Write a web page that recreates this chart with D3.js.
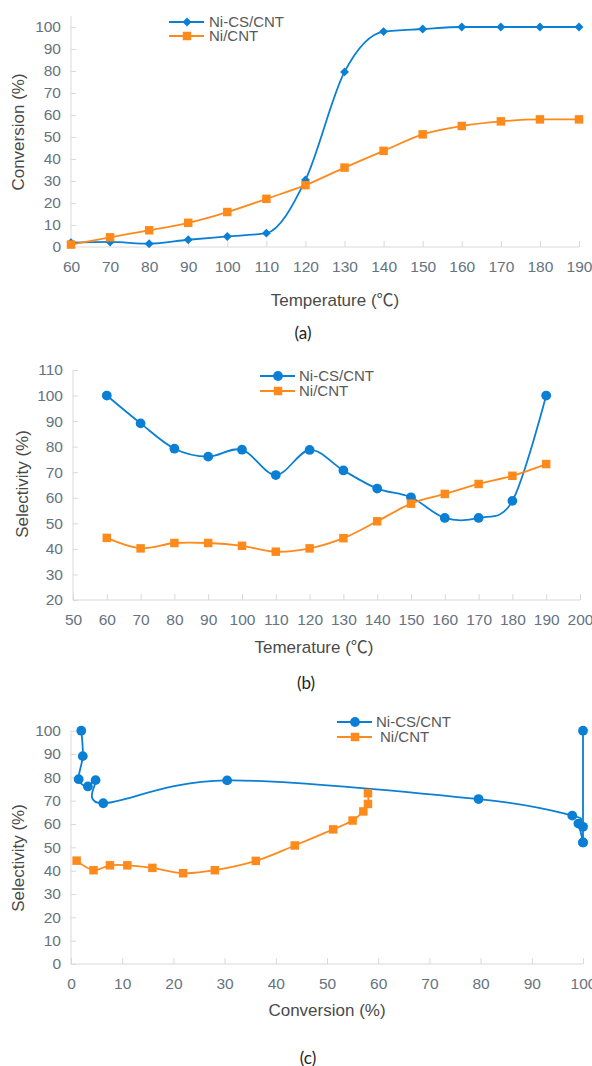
<!DOCTYPE html>
<html>
<head>
<meta charset="utf-8">
<script src="https://cdn.jsdelivr.net/npm/d3@7"></script>
<style>
body{margin:0;background:#fff;}
text{font-family:"Liberation Sans",Arial,sans-serif;}
</style>
</head>
<body>
<script>
// data
var temps=[60,70,80,90,100,110,120,130,140,150,160,170,180,190];
var convNiCS=[2.0,2.3,1.5,3.3,4.8,6.3,30.5,79.6,97.9,99.1,100,100,100,100];
var convNi=[1.1,4.4,7.6,11,15.9,21.9,28.1,36.1,43.7,51.2,55,57.1,58,58];
var selNiCS=[100,89.1,79.2,76.1,78.8,68.9,78.7,70.7,63.6,60.2,52.1,52.1,58.8,100];
var selNi=[44.3,40.2,42.3,42.3,41.2,38.9,40.2,44.2,50.8,57.7,61.5,65.4,68.6,73.2];
var seriesNames=["Ni-CS/CNT","Ni/CNT"];
var ticksTempA=[60,70,80,90,100,110,120,130,140,150,160,170,180,190];
var ticksTempB=[50,60,70,80,90,100,110,120,130,140,150,160,170,180,190,200];
var ticksPct=[0,10,20,30,40,50,60,70,80,90,100];
var ticksSelB=[20,30,40,50,60,70,80,90,100,110];

var blue="#0b7fd4";
var orange="#ff8a1c";
var tickColor="#66737f";
var titleColor="#4a4a4a";

var svg=d3.select("body")
  .append("svg")
  .attr("width",592)
  .attr("height",1066);

function drawChart(c){
  var g=svg.append("g");
  var x=d3.scaleLinear().domain(c.xDomain).range(c.xRange);
  var y=d3.scaleLinear().domain(c.yDomain).range(c.yRange);

  var xAxis=g.append("g")
    .attr("transform","translate(0,"+y(c.yDomain[0])+")")
    .call(d3.axisBottom(x).tickValues(c.xTicks).tickSizeInner(-6).tickSizeOuter(0).tickPadding(14));
  var yAxis=g.append("g")
    .attr("transform","translate("+x(c.xDomain[0])+",0)")
    .call(d3.axisLeft(y).tickValues(c.yTicks).tickSizeInner(-5).tickSizeOuter(0).tickPadding(10));
  [xAxis,yAxis].forEach(function(a){
    a.select(".domain").remove();
    a.selectAll("line").attr("stroke","#d9d9d9");
    a.selectAll("text").attr("fill",tickColor).style("font-size","15.5px");
  });
  // axis lines
  g.append("line")
    .attr("x1",x(c.xDomain[0])).attr("x2",x(c.xDomain[1]))
    .attr("y1",y(c.yDomain[0])).attr("y2",y(c.yDomain[0]))
    .attr("stroke","#d9d9d9");
  g.append("line")
    .attr("x1",x(c.xDomain[0])).attr("x2",x(c.xDomain[0]))
    .attr("y1",y(c.yDomain[0])).attr("y2",y(c.yTop))
    .attr("stroke","#d9d9d9");

  var line=d3.line()
    .x(function(d){return x(d[0]);})
    .y(function(d){return y(d[1]);})
    .curve(c.curve);

  c.series.forEach(function(s,i){
    var pts=s.xs.map(function(v,j){return [v,s.ys[j]];});
    g.append("path")
      .datum(pts)
      .attr("d",line)
      .attr("fill","none")
      .attr("stroke",s.color)
      .attr("stroke-width",1.8);
    g.selectAll(".m"+i)
      .data(pts)
      .enter()
      .append("path")
      .attr("class","m"+i)
      .attr("d",symbolFor(s.shape))
      .attr("fill",s.color)
      .attr("transform",function(d){
        return "translate("+x(d[0])+","+y(d[1])+")"+(s.shape=="diamond"?" rotate(45)":"");
      });
    // legend
    var ly=c.legend.y+i*c.legend.dy;
    g.append("line")
      .attr("x1",c.legend.x).attr("x2",c.legend.x+35)
      .attr("y1",ly).attr("y2",ly)
      .attr("stroke",s.color).attr("stroke-width",1.8);
    g.append("path")
      .attr("d",symbolFor(s.shape))
      .attr("fill",s.color)
      .attr("transform","translate("+(c.legend.x+18)+","+ly+")"+(s.shape=="diamond"?" rotate(45)":""));
    g.append("text")
      .attr("x",c.legend.tx+(c.legend.shift?c.legend.shift[i]:0))
      .attr("y",ly)
      .attr("dy","0.35em")
      .attr("fill","#595959")
      .style("font-size","15px")
      .text(s.name);
  });

  var xt=g.append("text")
    .attr("x",c.xTitle[0]).attr("y",c.xTitle[1])
    .attr("dy","0.35em")
    .attr("text-anchor","middle")
    .attr("fill",titleColor)
    .style("font-size","17px");
  var parts=c.xTitle[2].split("\u2103");
  xt.append("tspan").text(parts[0]);
  if(parts.length>1){
    xt.append("tspan").style("font-family","'Noto Sans CJK SC'").text("\u2103");
    xt.append("tspan").text(parts[1]);
  }
  g.append("text")
    .attr("transform","translate("+c.yTitle[0]+","+c.yTitle[1]+") rotate(-90)")
    .attr("dy","0.35em")
    .attr("text-anchor","middle")
    .attr("fill",titleColor)
    .style("font-size","17px")
    .text(c.yTitle[2]);
  g.append("text")
    .attr("x",c.caption[0]).attr("y",c.caption[1])
    .attr("dy","0.35em")
    .attr("text-anchor","middle")
    .attr("fill","#222")
    .style("font-family","Lato, 'Open Sans', sans-serif")
    .style("font-size","17px")
    .text(c.caption[2]);
}

function symbolFor(shape){
  if(shape=="diamond") return d3.symbol().type(d3.symbolSquare).size(40)();
  if(shape=="square") return d3.symbol().type(d3.symbolSquare).size(72)();
  return d3.symbol().type(d3.symbolCircle).size(75)();
}

// (a) conversion vs temperature
drawChart({
  xDomain:[60,190],xRange:[71,579],
  yDomain:[0,100],yRange:[247,27],yTop:105,
  xTicks:ticksTempA,yTicks:ticksPct,
  curve:d3.curveMonotoneX,
  series:[
    {name:seriesNames[0],xs:temps,ys:convNiCS,color:blue,shape:"diamond"},
    {name:seriesNames[1],xs:temps,ys:convNi,color:orange,shape:"square"}
  ],
  legend:{x:169,y:22,dy:14,tx:209},
  xTitle:[335,300,"Temperature (\u2103)"],
  yTitle:[18,132,"Conversion (%)"],
  caption:[303,333,"(a)"]
});

// (b) selectivity vs temperature
drawChart({
  xDomain:[50,200],xRange:[73,580],
  yDomain:[20,110],yRange:[600,370],yTop:110,
  xTicks:ticksTempB,yTicks:ticksSelB,
  curve:d3.curveCardinal,
  series:[
    {name:seriesNames[0],xs:temps,ys:selNiCS,color:blue,shape:"circle"},
    {name:seriesNames[1],xs:temps,ys:selNi,color:orange,shape:"square"}
  ],
  legend:{x:260,y:376,dy:15,tx:299},
  xTitle:[314,647,"Temerature (\u2103)"],
  yTitle:[22,484,"Selectivity (%)"],
  caption:[306,683,"(b)"]
});

// (c) selectivity vs conversion
drawChart({
  xDomain:[0,100],xRange:[71,583],
  yDomain:[0,100],yRange:[964,730.7],yTop:100,
  xTicks:ticksPct,yTicks:ticksPct,
  curve:d3.curveCardinal,
  series:[
    {name:seriesNames[0],xs:convNiCS,ys:selNiCS,color:blue,shape:"circle"},
    {name:seriesNames[1],xs:convNi,ys:selNi,color:orange,shape:"square"}
  ],
  legend:{x:337,y:722,dy:15,tx:376,shift:[0,4]},
  xTitle:[327,1010,"Conversion (%)"],
  yTitle:[18,858,"Selectivity (%)"],
  caption:[308,1058,"(c)"]
});
</script>
</body>
</html>
